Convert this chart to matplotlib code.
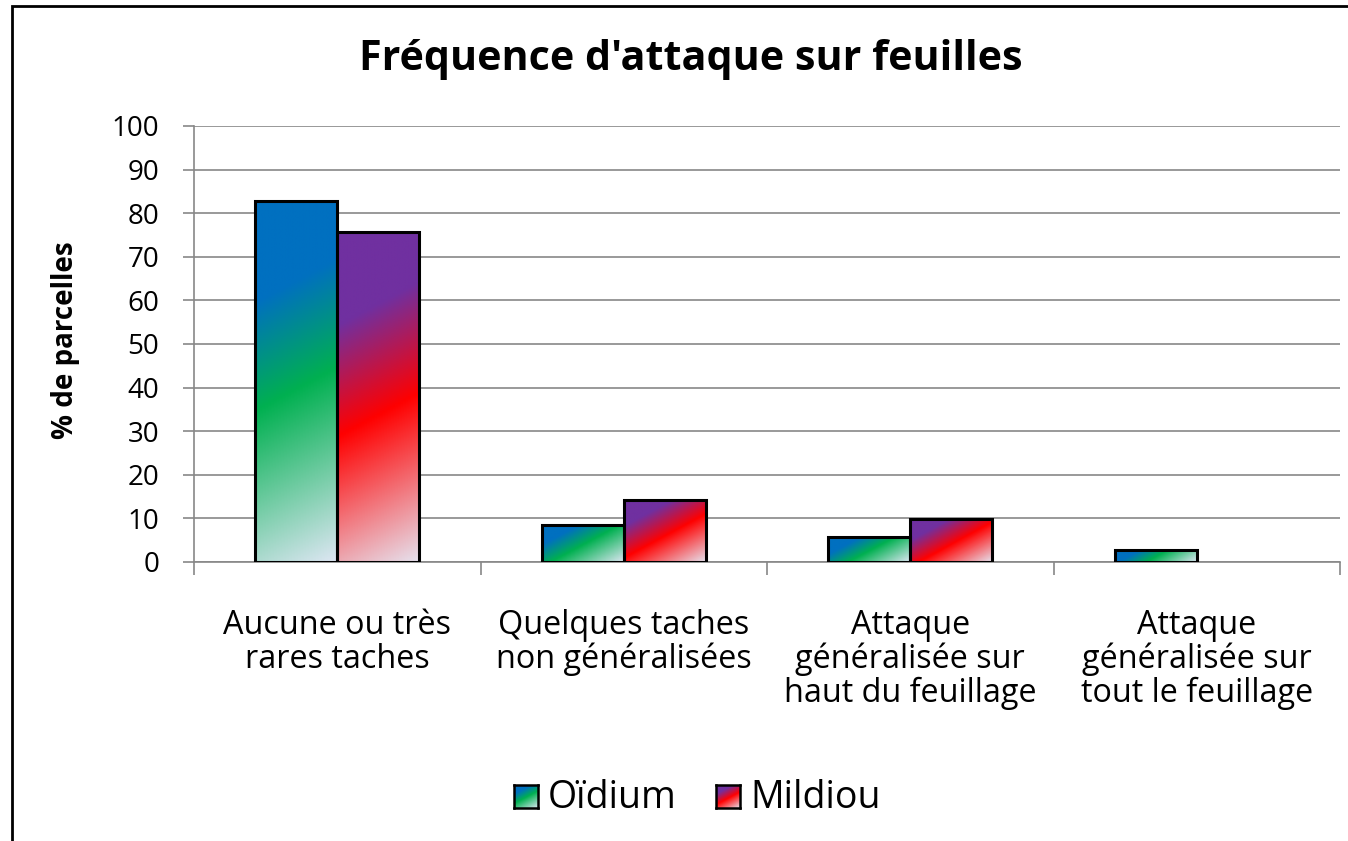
import numpy as np
import matplotlib
matplotlib.use("Agg")
import matplotlib.pyplot as plt
from matplotlib.colors import LinearSegmentedColormap
from matplotlib.patches import Rectangle

plt.rcParams['font.family'] = ['Open Sans', 'DejaVu Sans']

title = "Fréquence d'attaque sur feuilles"
ylabel = "% de parcelles"
categories = ["Aucune ou très\nrares taches",
              "Quelques taches\nnon généralisées",
              "Attaque\ngénéralisée sur\nhaut du feuillage",
              "Attaque\ngénéralisée sur\ntout le feuillage"]
series_names = ["Oïdium", "Mildiou"]
oidium = [82.9, 8.6, 5.7, 2.8]
mildiou = [75.8, 14.3, 9.9, 0.0]
yticks = list(range(0, 101, 10))

grad_oidium = [(0.0, "#0070C0"), (0.25, "#0070C0"), (0.52, "#00B050"), (1.0, "#DCE6F2")]
grad_mildiou = [(0.0, "#7030A0"), (0.25, "#7030A0"), (0.55, "#FF0000"), (1.0, "#E6E0EC")]
cmaps = [LinearSegmentedColormap.from_list("oid", grad_oidium),
         LinearSegmentedColormap.from_list("mil", grad_mildiou)]

W, H = 1348, 841
fig = plt.figure(figsize=(W / 100, H / 100), dpi=100)
ax = fig.add_axes([194 / W, 1 - 562 / H, (1340 - 194) / W, (562 - 126) / H])
ax.set_xlim(-0.5, 3.5)
ax.set_ylim(0, 100)

# chart border (left/top visible)
fig.patches.append(Rectangle((12 / W, -0.1), 1.2, 1 - 6 / H + 0.1, transform=fig.transFigure,
                             fill=False, edgecolor="black", linewidth=2, zorder=0))

ax.set_yticks(yticks)
ax.set_yticklabels([str(v) for v in yticks], fontsize=20)
ax.yaxis.grid(True, color="#878787", linewidth=1.2)
ax.set_axisbelow(True)
for s in ["top", "right"]:
    ax.spines[s].set_visible(False)
ax.spines["left"].set_color("#878787")
ax.spines["bottom"].set_color("#878787")
ax.spines["left"].set_linewidth(1.2)
ax.spines["bottom"].set_linewidth(1.2)
ax.tick_params(axis="y", length=8, width=1.2, color="#878787", pad=17)
ax.set_xticks(np.arange(-0.5, 4.0, 1.0))
ax.set_xticklabels([])
ax.tick_params(axis="x", length=9, width=1.2, color="#878787")
for i, c in enumerate(categories):
    ax.text(i, -10.8, c, ha="center", va="top", fontsize=23.3, linespacing=1.02,
            transform=ax.transData)

fig.text(66 / W, 1 - 340 / H, ylabel, rotation=90, ha="center", va="center",
         fontsize=20, fontweight="bold")
fig.text(691 / W, 1 - 60 / H, title, ha="center", va="center", fontsize=29.7, fontweight="bold")

ppx = (1340 - 194) / 4.0
ppy = (562 - 126) / 100.0
ang = np.deg2rad(28)


def grad_image(wpx, hpx, cmap, n=120):
    u = np.linspace(0, 1, n)
    v = np.linspace(0, 1, n)
    U, V = np.meshgrid(u, v)
    proj = U * wpx * np.sin(ang) + V * hpx * np.cos(ang)
    t = proj / (wpx * np.sin(ang) + hpx * np.cos(ang))
    return cmap(t)


bw = 0.286
for k, vals in enumerate([oidium, mildiou]):
    off = (k - 0.5) * bw
    for i, h in enumerate(vals):
        if h <= 0:
            continue
        x0 = i + off - bw / 2
        img = grad_image(bw * ppx, h * ppy, cmaps[k])
        ax.imshow(img, extent=[x0, x0 + bw, 0, h], aspect="auto", origin="upper",
                  interpolation="bilinear", zorder=2)
        ax.add_patch(Rectangle((x0, 0), bw, h, fill=False, edgecolor="black",
                               linewidth=2.2, zorder=3))
ax.set_xlim(-0.5, 3.5)
ax.set_ylim(0, 100)

# legend
sw_x = [514, 716]
tx_x = [548, 750]
for k, name in enumerate(series_names):
    lax = fig.add_axes([sw_x[k] / W, 1 - 808 / H, 24 / W, 23 / H])
    lax.imshow(grad_image(24, 23, cmaps[k]), aspect="auto", extent=[0, 1, 0, 1])
    lax.set_xticks([]); lax.set_yticks([])
    for s in lax.spines.values():
        s.set_linewidth(1.8)
        s.set_color("black")
    fig.text(tx_x[k] / W, 1 - 798 / H, name, ha="left", va="center", fontsize=27)

fig.savefig("out.png", dpi=100)
